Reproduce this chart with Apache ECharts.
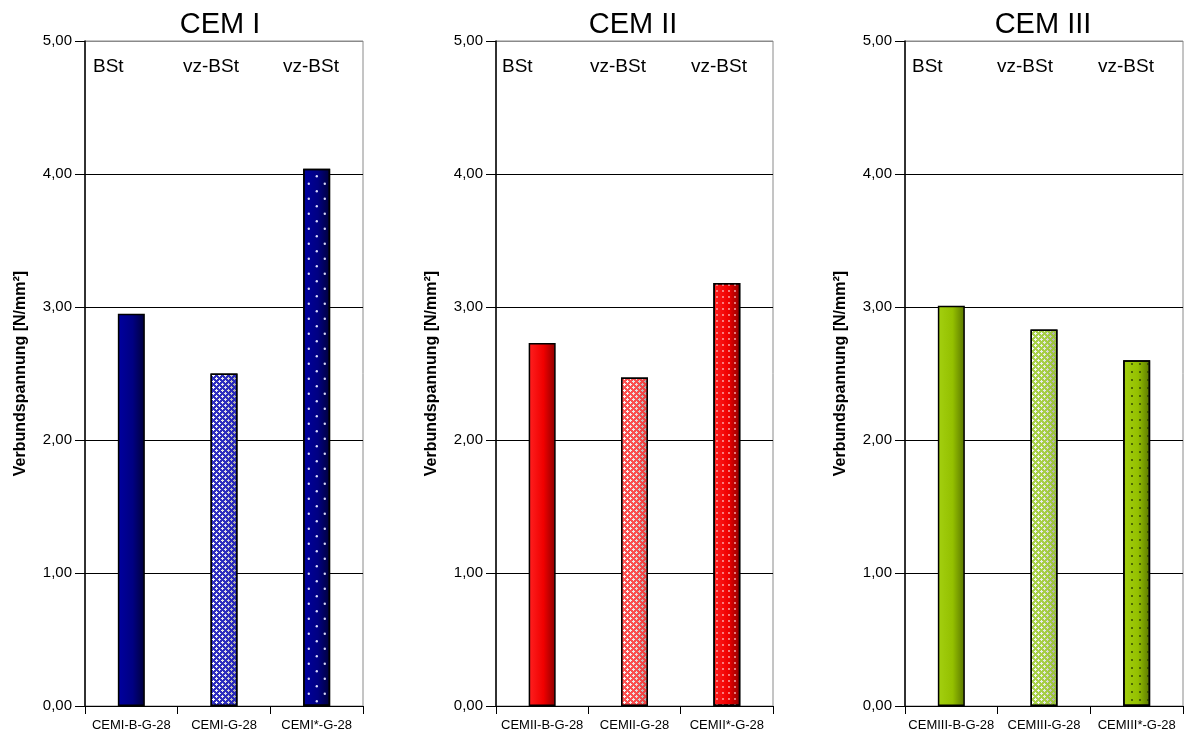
<!DOCTYPE html>
<html>
<head>
<meta charset="utf-8">
<title>Verbundspannung CEM I / II / III</title>
<script src="https://cdn.jsdelivr.net/npm/echarts@6/dist/echarts.min.js"></script>
<style>
  html, body { margin: 0; padding: 0; background: #fff; }
  #chart { width: 1184px; height: 733px; }
</style>
</head>
<body>
<div id="chart"></div>
<script>
// ---- data ----
const panelTitles = ['CEM I', 'CEM II', 'CEM III'];
const steelLabels = ['BSt', 'vz-BSt', 'vz-BSt'];
const categoriesCEM1 = ['CEMI-B-G-28', 'CEMI-G-28', 'CEMI*-G-28'];
const categoriesCEM2 = ['CEMII-B-G-28', 'CEMII-G-28', 'CEMII*-G-28'];
const categoriesCEM3 = ['CEMIII-B-G-28', 'CEMIII-G-28', 'CEMIII*-G-28'];
const valuesCEM1 = [2.95, 2.50, 4.04];
const valuesCEM2 = [2.73, 2.47, 3.18];
const valuesCEM3 = [3.01, 2.83, 2.60];
const yAxisName = 'Verbundspannung [N/mm²]';
const yMin = 0, yMax = 5, yStep = 1;

// ---- layout & styling ----
const FONT = '"Liberation Sans", Arial, sans-serif';
const panels = [
  { left: 85, width: 278, titleX: 220, cats: categoriesCEM1, vals: valuesCEM1, labelX: [93, 183, 283],
    solid: ['#0000a0', '#000082', '#00003a'], lattice: 'rgba(25,25,185,0.9)', dot: 'rgba(225,225,255,0.95)', dotTile: [16, 15.4], dotR: 1.2, stagger: true },
  { left: 496, width: 277, titleX: 633, cats: categoriesCEM2, vals: valuesCEM2, labelX: [502, 590, 691],
    solid: ['#ff2020', '#f00000', '#8c0000'], lattice: 'rgba(255,40,40,0.8)', dot: 'rgba(255,200,200,0.9)', dotTile: [6, 6], dotR: 0.9, stagger: false },
  { left: 905, width: 278, titleX: 1043, cats: categoriesCEM3, vals: valuesCEM3, labelX: [912, 997, 1098],
    solid: ['#a4d010', '#94c000', '#587500'], lattice: 'rgba(150,200,30,0.8)', dot: 'rgba(40,60,0,0.9)', dotTile: [8, 8], dotR: 1.0, stagger: false }
];
const GRID_TOP = 41, GRID_HEIGHT = 665;

function hGradient(stops) {
  return new echarts.graphic.LinearGradient(0, 0, 1, 0, [
    { offset: 0, color: stops[0] }, { offset: 0.55, color: stops[1] }, { offset: 1, color: stops[2] }
  ]);
}
function tile(w, h, draw) {
  const c = document.createElement('canvas');
  c.width = w; c.height = h;
  draw(c.getContext('2d'));
  return c;
}
// diamond lattice: colored background with white crosses
function latticePattern(color) {
  return { image: tile(6, 6, ctx => {
    ctx.fillStyle = color; ctx.fillRect(0, 0, 6, 6);
    ctx.clearRect(2, 3, 3, 1); ctx.clearRect(3, 2, 1, 3);
    ctx.clearRect(0, 0, 1, 1); ctx.clearRect(5, 0, 1, 1); ctx.clearRect(0, 5, 1, 1);
    ctx.clearRect(1, 0, 1, 1); ctx.clearRect(0, 1, 1, 1);
  }), repeat: 'repeat' };
}
function dotPattern(p) {
  const w = Math.round(p.dotTile[0]), h = Math.round(p.dotTile[1]);
  return { image: tile(w, h, ctx => {
    ctx.fillStyle = p.dot;
    const pts = p.stagger ? [[w * 0.3, h * 0.25], [w * 0.8, h * 0.75]] : [[w / 2, h / 2]];
    pts.forEach(([x, y]) => { ctx.beginPath(); ctx.arc(x, y, p.dotR, 0, Math.PI * 2); ctx.fill(); });
  }), repeat: 'repeat' };
}

const grids = [], xAxes = [], yAxes = [], series = [], graphics = [];
const fmt = v => v.toFixed(2).replace('.', ',');

panels.forEach((p, i) => {
  grids.push({ left: p.left, top: GRID_TOP, width: p.width, height: GRID_HEIGHT,
    show: true, borderColor: '#8a8a8a', borderWidth: 1, backgroundColor: 'transparent' });
  xAxes.push({ type: 'category', gridIndex: i, data: p.cats,
    axisLine: { lineStyle: { color: '#000', width: 1 } },
    axisTick: { show: true, length: 8, lineStyle: { color: '#000' } },
    axisLabel: { interval: 0, color: '#000', fontFamily: FONT, fontSize: 13, margin: 13 },
    splitLine: { show: false } });
  yAxes.push({ type: 'value', gridIndex: i, min: yMin, max: yMax, interval: yStep,
    name: yAxisName, nameLocation: 'middle', nameGap: 56, nameRotate: 90,
    nameTextStyle: { fontFamily: FONT, fontSize: 16, fontWeight: 'bold', color: '#000' },
    axisLine: { show: true, lineStyle: { color: '#000', width: 1.5 } },
    axisTick: { show: true, length: 10, lineStyle: { color: '#000' } },
    axisLabel: { formatter: fmt, color: '#000', fontFamily: FONT, fontSize: 15, margin: 13 },
    splitLine: { show: true, lineStyle: { color: ['#000', '#000', '#000', '#000', '#000', '#8a8a8a'], width: 1 } } });

  const solid = hGradient(p.solid);
  const pale = hGradient(['#ffffff', '#e6e6e6', '#9a9a9a']);
  const border = { borderColor: '#000', borderWidth: 1.5 };
  // base fill
  series.push({ type: 'bar', xAxisIndex: i, yAxisIndex: i, barWidth: 27, barGap: '-100%',
    data: p.vals.map((v, k) => ({ value: v, itemStyle: Object.assign({ color: k === 1 ? pale : solid }, border) })),
    emphasis: { disabled: true }, z: 2 });
  // texture on top of the fill
  series.push({ type: 'bar', xAxisIndex: i, yAxisIndex: i, barWidth: 27, barGap: '-100%',
    data: p.vals.map((v, k) => k === 0 ? '-' : ({ value: v,
      itemStyle: Object.assign({ color: k === 1 ? latticePattern(p.lattice) : dotPattern(p) }, border) })),
    emphasis: { disabled: true }, silent: true, z: 3 });

  graphics.push({ type: 'text', x: p.titleX, y: 25,
    style: { text: panelTitles[i], fill: '#000', font: '29px ' + FONT, textAlign: 'center', textVerticalAlign: 'middle' } });
  steelLabels.forEach((t, k) => graphics.push({ type: 'text', x: p.labelX[k], y: 67,
    style: { text: t, fill: '#000', font: '19px ' + FONT, textAlign: 'left', textVerticalAlign: 'middle' } }));
});

const chart = echarts.init(document.getElementById('chart'), null, { renderer: 'canvas' });
chart.setOption({
  animation: false,
  backgroundColor: '#fff',
  grid: grids, xAxis: xAxes, yAxis: yAxes, series: series,
  graphic: graphics
});
</script>
</body>
</html>
